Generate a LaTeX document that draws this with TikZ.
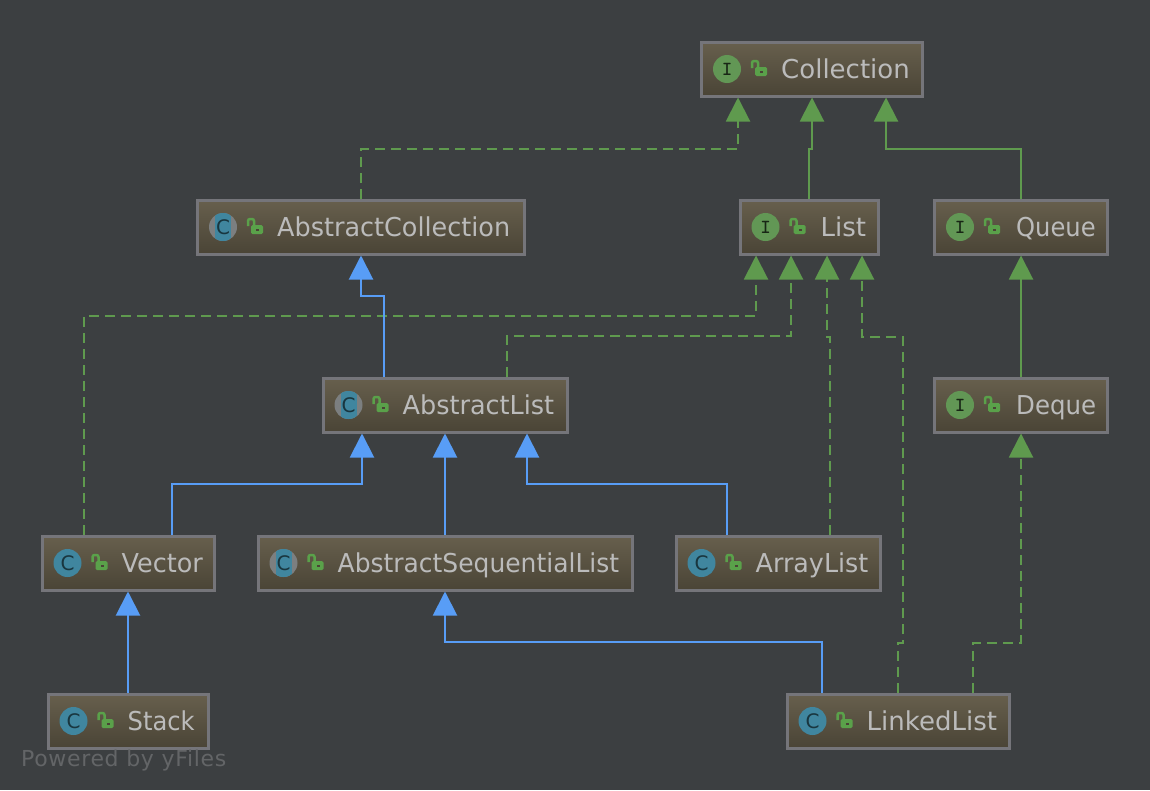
\documentclass[tikz,border=0pt]{standalone}
\usepackage{fontspec}
\setmainfont{DejaVu Sans}
\newfontfamily\yfilesfont[LetterSpace=3]{DejaVu Sans}
\usetikzlibrary{arrows.meta}

\definecolor{canvasgray}{HTML}{3C3F41}
\definecolor{edgegreen}{HTML}{5F9A4E}
\definecolor{edgeblue}{HTML}{589DF6}
\definecolor{boxtop}{HTML}{675F4D}
\definecolor{boxbottom}{HTML}{4A4436}
\definecolor{boxborder}{HTML}{75757A}
\definecolor{titlegray}{HTML}{BBBBBB}
\definecolor{badgegreen}{HTML}{629755}
\definecolor{badgeteal}{HTML}{40869F}
\definecolor{badgegray}{HTML}{7C7F80}
\definecolor{lockgreen}{HTML}{5AA14A}

\tikzset{
	umlbox/.style={draw=boxborder, line width=3pt, top color=boxtop, bottom color=boxbottom, minimum height=54pt},
	boxtitle/.style={anchor=base west, inner sep=0pt, text=titlegray, font=\fontsize{26}{30}\selectfont},
	squeezed/.style={font=\fontsize{26}{30}\selectfont\addfontfeature{FakeStretch=#1}},
	badge/.style={circle, minimum size=28pt, inner sep=0pt, font=\fontsize{20}{20}\selectfont},
	ifacebadge/.style={badge, fill=badgegreen, text=black!75!badgegreen, font=\fontsize{20}{20}\ttfamily\bfseries},
	classbadge/.style={badge, fill=badgeteal, text=black!60!badgeteal},
	abstractbadge/.style={badge, fill=badgegray, text=black!60!badgeteal, path picture={\fill[badgeteal] ([xshift=-8pt,yshift=-15pt]path picture bounding box.center) rectangle ([xshift=8pt,yshift=15pt]path picture bounding box.center);}},
	implementsedge/.style={draw=edgegreen, line width=2pt, dash pattern=on 10pt off 6pt, -{Triangle[length=24pt,width=24pt,fill=edgegreen,sharp]}},
	extendsedge/.style={draw=edgegreen, line width=2pt, -{Triangle[length=24pt,width=24pt,fill=edgegreen]}},
	classedge/.style={draw=edgeblue, line width=2pt, -{Triangle[length=24pt,width=24pt,fill=edgeblue]}},
	lockicon/.pic={
		\draw[lockgreen, line width=2.5pt, rounded corners=2pt] (-7,-1) -- (-7,-8) -- (-1,-8) -- (-1,-2);
		\fill[lockgreen, rounded corners=1.5pt] (-4,-2) rectangle (8,7);
		\fill[boxbottom] (1,2) rectangle (4,3.5);
	}
}

\begin{document}
\begin{tikzpicture}[x=1pt, y=-1pt]
	\useasboundingbox[fill=canvasgray] (0,0) rectangle (1150,790);

	% Boxes
	\node[umlbox, minimum width=221pt] (collection) at (812,69) {};
	\node[ifacebadge] (collectionbadge) at ([xshift=27pt]collection.west) {I};
	\pic at ([xshift=59pt]collection.west) {lockicon};
	\node[boxtitle] (collectiontitle) at ([xshift=81pt,yshift=-9.5pt]collection.west) {Collection};

	\node[umlbox, minimum width=327pt] (abstractcollection) at (361,227) {};
	\node[abstractbadge] (abstractcollectionbadge) at ([xshift=27pt]abstractcollection.west) {C};
	\pic at ([xshift=59pt]abstractcollection.west) {lockicon};
	\node[boxtitle, squeezed=.98] (abstractcollectiontitle) at ([xshift=81pt,yshift=-9.5pt]abstractcollection.west) {AbstractCollection};

	\node[umlbox, minimum width=138pt] (list) at (809,227) {};
	\node[ifacebadge] (listbadge) at ([xshift=27pt]list.west) {I};
	\pic at ([xshift=59pt]list.west) {lockicon};
	\node[boxtitle] (listtitle) at ([xshift=82pt,yshift=-9.5pt]list.west) {List};

	\node[umlbox, minimum width=173pt] (queue) at (1021,227) {};
	\node[ifacebadge] (queuebadge) at ([xshift=27pt]queue.west) {I};
	\pic at ([xshift=59pt]queue.west) {lockicon};
	\node[boxtitle, squeezed=.93] (queuetitle) at ([xshift=83pt,yshift=-9.5pt]queue.west) {Queue};

	\node[umlbox, minimum width=244pt] (abstractlist) at (445,405) {};
	\node[abstractbadge] (abstractlistbadge) at ([xshift=27pt]abstractlist.west) {C};
	\pic at ([xshift=59pt]abstractlist.west) {lockicon};
	\node[boxtitle, squeezed=.98] (abstractlisttitle) at ([xshift=81pt,yshift=-9.5pt]abstractlist.west) {AbstractList};

	\node[umlbox, minimum width=173pt] (deque) at (1021,405) {};
	\node[ifacebadge] (dequebadge) at ([xshift=27pt]deque.west) {I};
	\pic at ([xshift=59pt]deque.west) {lockicon};
	\node[boxtitle, squeezed=.94] (dequetitle) at ([xshift=83pt,yshift=-9.5pt]deque.west) {Deque};

	\node[umlbox, minimum width=172pt] (vector) at (128,563) {};
	\node[classbadge] (vectorbadge) at ([xshift=27pt]vector.west) {C};
	\pic at ([xshift=59pt]vector.west) {lockicon};
	\node[boxtitle, squeezed=.98] (vectortitle) at ([xshift=81pt,yshift=-9.5pt]vector.west) {Vector};

	\node[umlbox, minimum width=374pt] (sequentiallist) at (445,563) {};
	\node[abstractbadge] (sequentiallistbadge) at ([xshift=27pt]sequentiallist.west) {C};
	\pic at ([xshift=59pt]sequentiallist.west) {lockicon};
	\node[boxtitle, squeezed=.96] (sequentiallisttitle) at ([xshift=81pt,yshift=-9.5pt]sequentiallist.west) {AbstractSequentialList};

	\node[umlbox, minimum width=204pt] (arraylist) at (778,563) {};
	\node[classbadge] (arraylistbadge) at ([xshift=27pt]arraylist.west) {C};
	\pic at ([xshift=59pt]arraylist.west) {lockicon};
	\node[boxtitle, squeezed=.975] (arraylisttitle) at ([xshift=81pt,yshift=-9.5pt]arraylist.west) {ArrayList};

	\node[umlbox, minimum width=160pt] (stack) at (128,721) {};
	\node[classbadge] (stackbadge) at ([xshift=27pt]stack.west) {C};
	\pic at ([xshift=59pt]stack.west) {lockicon};
	\node[boxtitle, squeezed=.93] (stacktitle) at ([xshift=81pt,yshift=-9.5pt]stack.west) {Stack};

	\node[umlbox, minimum width=222pt] (linkedlist) at (898,721) {};
	\node[classbadge] (linkedlistbadge) at ([xshift=27pt]linkedlist.west) {C};
	\pic at ([xshift=59pt]linkedlist.west) {lockicon};
	\node[boxtitle] (linkedlisttitle) at ([xshift=81pt,yshift=-9.5pt]linkedlist.west) {LinkedList};

	% Interface inheritance
	\draw[extendsedge] (list.north) -- ++(0,-50) -| (collection.south);
	\draw[extendsedge] (queue.north) -- ++(0,-50) -| ([xshift=74pt]collection.south);
	\draw[extendsedge] (deque.north) -- (queue.south);

	% Implemented interfaces
	\draw[implementsedge] (abstractcollection.north) -- ++(0,-50) -| ([xshift=-74pt]collection.south);
	\draw[implementsedge] ([xshift=-44pt]vector.north) -- ++(0,-219) -| ([xshift=-53pt]list.south);
	\draw[implementsedge] ([xshift=62pt]abstractlist.north) -- ++(0,-41) -| ([xshift=-18pt]list.south);
	\draw[implementsedge] ([xshift=52pt]arraylist.north) -- ++(0,-198) -| ([xshift=18pt]list.south);
	\draw[implementsedge] (linkedlist.north) -- ++(0,-50) -- ++(5,0) -- ++(0,-306) -| ([xshift=53pt]list.south);
	\draw[implementsedge] ([xshift=75pt]linkedlist.north) -- ++(0,-50) -| (deque.south);

	% Class inheritance
	\draw[classedge] ([xshift=-61pt]abstractlist.north) -- ++(0,-81) -| (abstractcollection.south);
	\draw[classedge] ([xshift=44pt]vector.north) -- ++(0,-51) -| ([xshift=-83pt]abstractlist.south);
	\draw[classedge] (sequentiallist.north) -- (abstractlist.south);
	\draw[classedge] ([xshift=-51pt]arraylist.north) -- ++(0,-51) -| ([xshift=82pt]abstractlist.south);
	\draw[classedge] (stack.north) -- (vector.south);
	\draw[classedge] ([xshift=-76pt]linkedlist.north) -- ++(0,-51) -| (sequentiallist.south);

	% Watermark
	\node[anchor=base west, inner sep=0pt, text=white!20!canvasgray, font=\yfilesfont\fontsize{22}{26}\selectfont] (poweredby) at (21,766) {Powered by yFiles};
\end{tikzpicture}
\end{document}
